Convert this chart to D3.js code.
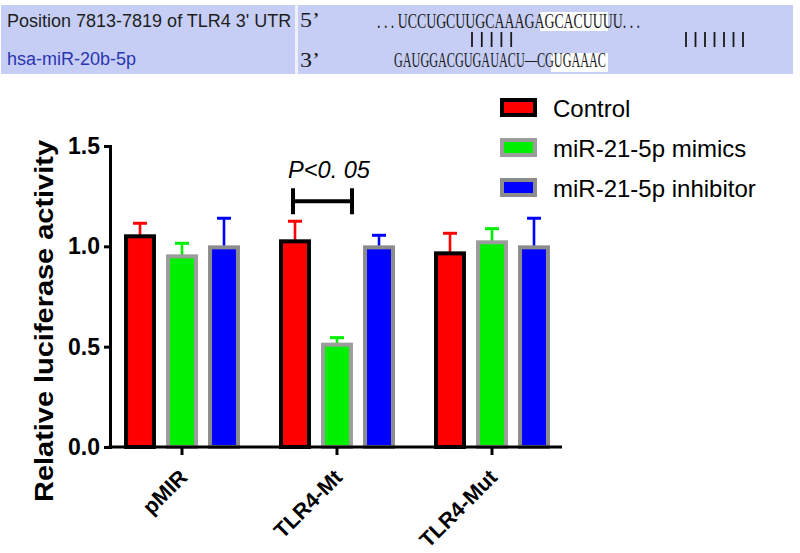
<!DOCTYPE html>
<html>
<head>
<meta charset="utf-8">
<script src="https://cdn.jsdelivr.net/npm/d3@7"></script>
<style>
  body { margin: 0; background: #fff; }
  svg { display: block; }
</style>
</head>
<body>
<script>
// chart data
var groups = ["pMIR", "TLR4-Mt", "TLR4-Mut"]
var series = ["Control", "miR-21-5p mimics", "miR-21-5p inhibitor"]
var control = [1.05, 1.025, 0.965]
var controlErr = [0.065, 0.1, 0.1]
var mimics = [0.95, 0.51, 1.02]
var mimicsErr = [0.065, 0.035, 0.068]
var inhibitor = [0.995, 0.995, 0.995]
var inhibitorErr = [0.145, 0.06, 0.145]
var yTicks = [0, 0.5, 1.0, 1.5]

var fills = ["#ff0000", "#00f000", "#0000ff"]
var borders = ["#000000", "#9c9c9c", "#8c8c8c"]

var svg = d3.select("body").append("svg")
	.attr("width", 800)
	.attr("height", 553)

svg.append("rect").attr("width", 800).attr("height", 553).attr("fill", "#fff")

// ---- top panel: binding site ----
var panel = svg.append("g")
panel.append("rect").attr("x", 1).attr("y", 5).attr("width", 792).attr("height", 69).attr("fill", "#c6cef5")
panel.append("rect").attr("x", 295).attr("y", 5).attr("width", 3).attr("height", 69).attr("fill", "#eef0fb")

panel.append("text").attr("x", 7).attr("y", 27)
	.attr("font-family", "Liberation Sans, Arial, sans-serif").attr("font-size", 18)
	.attr("fill", "#1e1e1e")
	.text("Position 7813-7819 of TLR4 3' UTR")
panel.append("text").attr("x", 7).attr("y", 65)
	.attr("font-family", "Liberation Sans, Arial, sans-serif").attr("font-size", 18)
	.attr("fill", "#2a35b0")
	.text("hsa-miR-20b-5p")

// white highlights behind the seed
panel.append("rect").attr("x", 540).attr("y", 12).attr("width", 68).attr("height", 19).attr("fill", "#fff")
panel.append("rect").attr("x", 551).attr("y", 53).attr("width", 57).attr("height", 19).attr("fill", "#fff")

var seq = [
	{x: 300, y: 27, w: 20, t: "5\u2019"},
	{x: 300, y: 67, w: 20, t: "3\u2019"},
	{x: 377, y: 28, w: 263, t: ". . . UCCUGCUUGCAAAGAGCACUUUU. . ."},
	{x: 394, y: 67, w: 212, t: "GAUGGACGUGAUACU\u2014CGUGAAAC"}
]
panel.selectAll("text.seq").data(seq).enter().append("text")
	.attr("class", "seq")
	.attr("x", function(d) {return d.x})
	.attr("y", function(d) {return d.y})
	.attr("textLength", function(d) {return d.w})
	.attr("lengthAdjust", "spacingAndGlyphs")
	.attr("font-family", "Liberation Serif, Times New Roman, serif")
	.attr("font-size", 21)
	.attr("fill", "#1a1a1a")
	.text(function(d) {return d.t})

// base-pair marks
var pairs = d3.range(5).map(function(i) {return 472 + i * 9.8})
	.concat(d3.range(7).map(function(i) {return 686 + i * 9.5}))
panel.selectAll("line.pair").data(pairs).enter().append("line")
	.attr("class", "pair")
	.attr("x1", function(d) {return d}).attr("x2", function(d) {return d})
	.attr("y1", 32).attr("y2", 47)
	.attr("stroke", "#1a1a1a").attr("stroke-width", 1.8)

// ---- bar chart ----
var x = d3.scaleBand().domain(groups).range([104.5, 569.5])
var xi = d3.scaleBand().domain(series).range([-63, 63]).paddingInner(0.24).paddingOuter(0.12)
var y = d3.scaleLinear().domain([0, 1.5]).range([447, 146])

var values = [control, mimics, inhibitor]
var errs = [controlErr, mimicsErr, inhibitorErr]
var bars = []
series.forEach(function(s, si) {
	groups.forEach(function(g, gi) {
		bars.push({g: g, s: s, si: si, v: values[si][gi], e: errs[si][gi]})
	})
})

// error bars (upper only)
var eb = svg.append("g").selectAll("g")
	.data(bars).enter().append("g")
	.attr("transform", function(d) {return "translate(" + (x(d.g) + x.bandwidth() / 2 + xi(d.s) + xi.bandwidth() / 2) + ",0)"})
eb.append("line")
	.attr("y1", function(d) {return y(d.v)})
	.attr("y2", function(d) {return y(d.v + d.e)})
	.attr("stroke", function(d) {return fills[d.si]})
	.attr("stroke-width", 2.6)
eb.append("line")
	.attr("x1", -7).attr("x2", 7)
	.attr("y1", function(d) {return y(d.v + d.e)})
	.attr("y2", function(d) {return y(d.v + d.e)})
	.attr("stroke", function(d) {return fills[d.si]})
	.attr("stroke-width", 3)

svg.append("g").selectAll("rect")
	.data(bars).enter().append("rect")
	.attr("x", function(d) {return x(d.g) + x.bandwidth() / 2 + xi(d.s) + 2})
	.attr("width", xi.bandwidth() - 4)
	.attr("y", function(d) {return y(d.v)})
	.attr("height", function(d) {return y(0) - y(d.v)})
	.attr("fill", function(d) {return fills[d.si]})
	.attr("stroke", function(d) {return borders[d.si]})
	.attr("stroke-width", 4)

// axes
var yAxis = svg.append("g")
	.attr("transform", "translate(110,0)")
	.call(d3.axisLeft(y).tickValues(yTicks).tickFormat(d3.format(".1f")).tickSizeOuter(0).tickSize(6).tickPadding(4))
yAxis.select(".domain").attr("stroke-width", 3)
yAxis.selectAll(".tick line").attr("stroke-width", 3)
yAxis.selectAll("text")
	.attr("font-family", "Liberation Sans, Arial, sans-serif")
	.attr("font-weight", "bold").attr("font-size", 23).attr("fill", "#000")

var xAxis = svg.append("g")
	.attr("transform", "translate(0,447)")
	.call(d3.axisBottom(x).tickSizeOuter(0).tickSize(8).tickFormat(""))
xAxis.select(".domain").attr("d", "M108.5,0H562").attr("stroke-width", 3)
xAxis.selectAll(".tick line").attr("stroke-width", 3)

svg.append("g").selectAll("text")
	.data(groups).enter().append("text")
	.attr("transform", function(d) {return "translate(" + (x(d) + x.bandwidth() / 2 - 4) + ",468) rotate(-45)"})
	.attr("text-anchor", "end")
	.attr("dy", "0.7em")
	.attr("font-family", "Liberation Sans, Arial, sans-serif")
	.attr("font-weight", "bold").attr("font-size", 21.5)
	.text(function(d) {return d})

svg.append("text")
	.attr("transform", "translate(53,321) rotate(-90)")
	.attr("text-anchor", "middle")
	.attr("font-family", "Liberation Sans, Arial, sans-serif")
	.attr("font-weight", "bold").attr("font-size", 26)
	.attr("textLength", 362).attr("lengthAdjust", "spacingAndGlyphs")
	.text("Relative luciferase activity")

// significance bracket
var bx1 = x("TLR4-Mt") + x.bandwidth() / 2 - 44
var bx2 = bx1 + 59
var by = y(1.225)
svg.append("path")
	.attr("d", "M" + bx1 + "," + (by - 13) + "V" + (by + 13) + "M" + bx1 + "," + by + "H" + bx2 + "M" + bx2 + "," + (by - 13) + "V" + (by + 13))
	.attr("fill", "none").attr("stroke", "#000").attr("stroke-width", 4)
svg.append("text")
	.attr("x", 288).attr("y", 178)
	.attr("font-family", "Liberation Sans, Arial, sans-serif")
	.attr("font-style", "italic").attr("font-size", 23)
	.attr("textLength", 82).attr("lengthAdjust", "spacingAndGlyphs")
	.text("P<0. 05")

// legend
var legend = svg.append("g").selectAll("g")
	.data(series).enter().append("g")
	.attr("transform", function(d, i) {return "translate(500," + (98 + i * 40) + ")"})
legend.append("rect")
	.attr("x", 2).attr("y", 2).attr("width", 33).attr("height", 15)
	.attr("fill", function(d, i) {return fills[i]})
	.attr("stroke", function(d, i) {return borders[i]})
	.attr("stroke-width", 4)
legend.append("text")
	.attr("x", 53).attr("y", 10).attr("dy", "0.36em")
	.attr("font-family", "Liberation Sans, Arial, sans-serif")
	.attr("font-size", 24)
	.text(function(d) {return d})
</script>
</body>
</html>
